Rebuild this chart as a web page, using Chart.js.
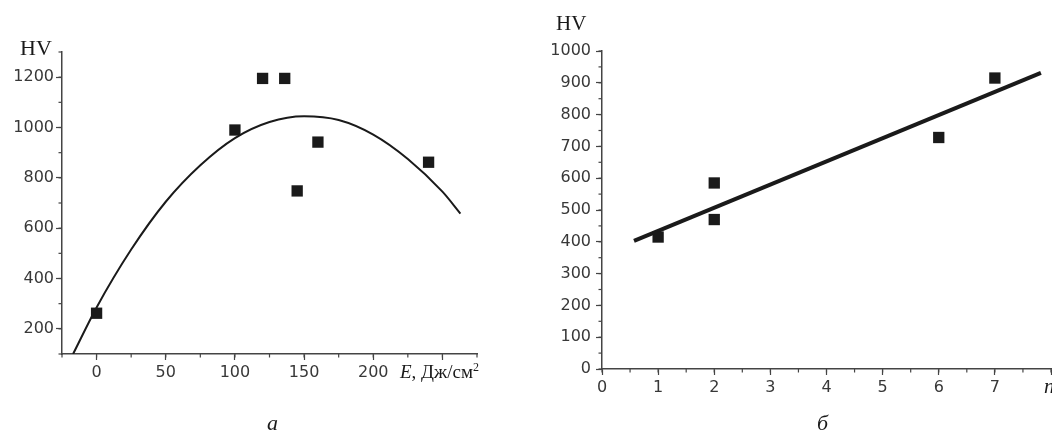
<!DOCTYPE html>
<html>
<head>
<meta charset="utf-8">
<script src="https://cdn.jsdelivr.net/npm/chart.js@4/dist/chart.umd.min.js"></script>
<style>
  body { margin: 0; background: #fff; width: 1052px; height: 434px; overflow: hidden; position: relative; }
  canvas { position: absolute; top: 0; }
  #left { left: 0; }
  #right { left: 530px; }
</style>
</head>
<body>
<canvas id="left" width="500" height="434"></canvas>
<canvas id="right" width="522" height="434"></canvas>
<script>
// panel а: hardness vs pulse energy density
const energyE = [0, 100, 120, 136, 145, 160, 240];
const hardnessA = [262, 990, 1195, 1195, 748, 942, 862];
// fitted curve
const curveE = [-17, 0, 25, 50, 75, 100, 125, 150, 175, 200, 225, 250, 263];
const curveHV = [100, 285, 515, 705, 850, 958, 1022, 1045, 1030, 972, 875, 745, 658];
const ticksEx = [0, 50, 100, 150, 200, 250];
const ticksHVa = [200, 400, 600, 800, 1000, 1200];

// panel б: hardness vs number of treatments
const passesN = [1, 2, 2, 6, 7];
const hardnessB = [415, 585, 470, 728, 915];
const lineN = [0.57, 7.82];
const lineHV = [403, 931];
const ticksN = [0, 1, 2, 3, 4, 5, 6, 7, 8];
const ticksHVb = [0, 100, 200, 300, 400, 500, 600, 700, 800, 900, 1000];

const axisColor = "#444";
const labelColor = "#383838";
const tickFont = { family: "DejaVu Sans", size: 16 };

// small ticks between the labelled ones
const minorTicks = {
  id: "minorTicks",
  afterDraw(chart) {
    const ctx = chart.ctx;
    ctx.save();
    ctx.strokeStyle = axisColor;
    ctx.lineWidth = 1.2;
    for (const id of ["x", "y"]) {
      const s = chart.scales[id];
      const step = s.options.minorStep;
      if (!step) continue;
      for (let v = s.min; v <= s.max + 1e-9; v += step) {
        const p = s.getPixelForValue(v);
        ctx.beginPath();
        if (id === "x") {
          ctx.moveTo(p, s.top); ctx.lineTo(p, s.top + 3.5);
        } else {
          ctx.moveTo(s.right, p); ctx.lineTo(s.right - 3.5, p);
        }
        ctx.stroke();
      }
    }
    ctx.restore();
  }
};

// free text (axis names, captions)
const freeText = {
  id: "freeText",
  afterDraw(chart) {
    const ctx = chart.ctx;
    const items = chart.options.plugins.freeText.items || [];
    ctx.save();
    ctx.fillStyle = "#1a1a1a";
    ctx.textBaseline = "alphabetic";
    for (const it of items) {
      let x = it.x;
      for (const part of it.parts) {
        ctx.font = part.font;
        ctx.textAlign = "left";
        const dy = part.sup ? -part.sup : 0;
        ctx.fillText(part.t, x, it.y + dy);
        x += ctx.measureText(part.t).width;
      }
    }
    ctx.restore();
  }
};

function axis(min, max, ticks, minorStep, hidden, size) {
  return {
    type: "linear",
    min: min,
    max: max,
    minorStep: minorStep,
    afterBuildTicks: (s) => { s.ticks = ticks.map((v) => ({ value: v })); },
    afterFit: (s) => {
      if (s.isHorizontal()) s.height = size; else s.width = size;
      s.paddingLeft = 0; s.paddingRight = 0; s.paddingTop = 0; s.paddingBottom = 0;
    },
    grid: { drawOnChartArea: false, drawTicks: true, tickLength: 6, tickColor: axisColor, tickWidth: 1.2 },
    border: { display: true, color: axisColor, width: 1.5 },
    ticks: {
      color: labelColor, font: tickFont, padding: 3, maxRotation: 0, autoSkip: false,
      callback: (v) => (v === hidden ? "" : String(v)),
    },
  };
}

const serif = "Liberation Serif";

const leftX = axis(-25, 275, ticksEx, 25, 250, 80);
const leftY = axis(100, 1300, ticksHVa, 100, null, 62);
leftY.ticks.padding = 2;

new Chart(document.getElementById("left"), {
  type: "scatter",
  data: {
    datasets: [
      {
        data: energyE.map((e, i) => ({ x: e, y: hardnessA[i] })),
        pointStyle: "rect",
        pointRadius: 8,
        backgroundColor: "#1a1a1a",
        borderWidth: 0,
      },
      {
        type: "line",
        data: curveE.map((e, i) => ({ x: e, y: curveHV[i] })),
        borderColor: "#1a1a1a",
        borderWidth: 2,
        pointRadius: 0,
        cubicInterpolationMode: "monotone",
        fill: false,
      },
    ],
  },
  options: {
    responsive: false,
    animation: false,
    layout: { autoPadding: false, padding: { left: 0, top: 52, right: 23, bottom: 0 } },
    scales: { x: leftX, y: leftY },
    plugins: {
      legend: { display: false },
      tooltip: { enabled: false },
      freeText: {
        items: [
          { x: 20, y: 55, parts: [{ t: "HV", font: `22px "${serif}"` }] },
          { x: 400, y: 378, parts: [
            { t: "E", font: `italic 19px "${serif}"` },
            { t: ", Дж/см", font: `19px "${serif}"` },
            { t: "2", font: `12px "${serif}"`, sup: 7 },
          ] },
          { x: 267, y: 430, parts: [{ t: "а", font: `italic 22px "${serif}"` }] },
        ],
      },
    },
  },
  plugins: [minorTicks, freeText],
});

const rightX = axis(0, 8, ticksN, 0.5, 8, 65);
const rightY = axis(0, 1000, ticksHVb, 50, null, 72);
rightY.ticks.padding = 5;

new Chart(document.getElementById("right"), {
  type: "scatter",
  data: {
    datasets: [
      {
        data: passesN.map((n, i) => ({ x: n, y: hardnessB[i] })),
        pointStyle: "rect",
        pointRadius: 8,
        backgroundColor: "#1a1a1a",
        borderWidth: 0,
      },
      {
        type: "line",
        data: lineN.map((n, i) => ({ x: n, y: lineHV[i] })),
        borderColor: "#1a1a1a",
        borderWidth: 4,
        pointRadius: 0,
        fill: false,
      },
    ],
  },
  options: {
    responsive: false,
    animation: false,
    layout: { autoPadding: false, padding: { left: 0, top: 51, right: 1, bottom: 0 } },
    scales: { x: rightX, y: rightY },
    plugins: {
      legend: { display: false },
      tooltip: { enabled: false },
      freeText: {
        items: [
          { x: 26, y: 30, parts: [{ t: "HV", font: `21px "${serif}"` }] },
          { x: 514, y: 393, parts: [{ t: "n", font: `italic 21px "${serif}"` }] },
          { x: 287, y: 430, parts: [{ t: "б", font: `italic 22px "${serif}"` }] },
        ],
      },
    },
  },
  plugins: [minorTicks, freeText],
});
</script>
</body>
</html>
